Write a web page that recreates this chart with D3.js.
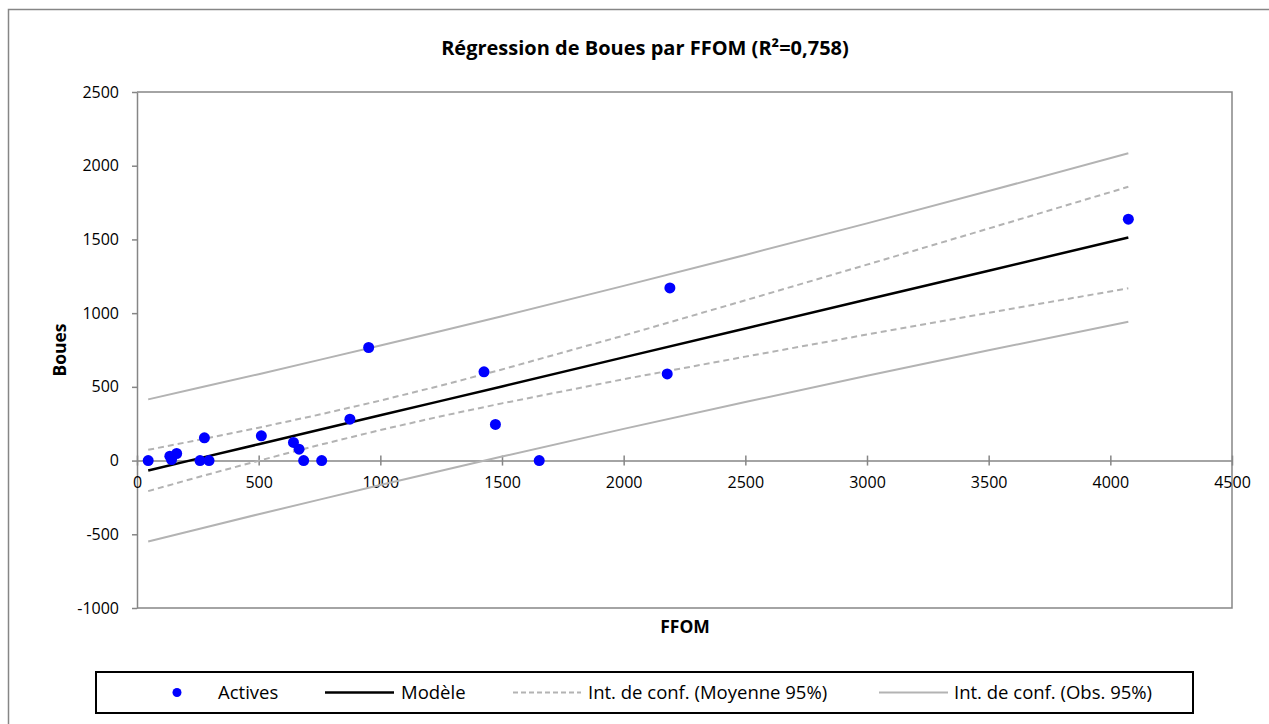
<!DOCTYPE html>
<html>
<head>
<meta charset="utf-8">
<script src="https://cdn.jsdelivr.net/npm/d3@7"></script>
<style>
  body { margin: 0; background: #fff; }
  svg { font-family: "Open Sans", "Noto Sans", sans-serif; }
  .axis text { font-size: 16px; fill: #000; }
  .axis path, .axis line { stroke: #868686; stroke-width: 1.5px; }
  .label { font-size: 17.5px; font-weight: bold; }
  .title { font-size: 20px; font-weight: bold; text-anchor: middle; }
  .legend text { font-size: 18.5px; }
</style>
</head>
<body>
<div id="chart"></div>
<script>
// observations (FFOM, Boues)
var ffom  = [46, 135, 142, 163, 277, 259, 296, 511, 643, 666, 685, 759, 875, 952, 1426, 1473, 1653, 2190, 2179, 4074];
var boues = [0, 30, 7, 48, 154, 0, 0, 168, 123, 77, 0, 0, 281, 767, 602, 245, 0, 1171, 588, 1637];

// model line and confidence bands
var bandX    = [46, 250, 500, 750, 1000, 1250, 1500, 2000, 2500, 3000, 3500, 4074];
var model    = [-67, 13, 111, 209, 307, 405, 503, 700, 896, 1092, 1288, 1513];
var meanLow  = [-207, -113, -1, 106, 207, 301, 388, 552, 705, 855, 1002, 1169];
var meanHigh = [73, 139, 223, 312, 407, 509, 618, 848, 1087, 1329, 1574, 1857];
var obsLow   = [-549, -466, -364, -265, -166, -69, 27, 215, 397, 575, 748, 942];
var obsHigh  = [415, 492, 586, 683, 780, 879, 979, 1185, 1395, 1609, 1828, 2084];

var xTicks = [0, 500, 1000, 1500, 2000, 2500, 3000, 3500, 4000, 4500];
var yTicks = [-1000, -500, 0, 500, 1000, 1500, 2000, 2500];

var width = 1269, height = 724;
var plot = {left: 137, right: 1232, top: 92, bottom: 608};
var bandColor = "#b3b3b3";

var svg = d3.select("#chart")
  .append("svg")
  .attr("width", width)
  .attr("height", height);

// outer chart border
svg.append("rect")
  .attr("x", 8.5).attr("y", 9.5)
  .attr("width", width).attr("height", height)
  .attr("fill", "none")
  .attr("stroke", "#868686")
  .attr("stroke-width", 1.5);

var x = d3.scaleLinear()
  .domain([0, 4500])
  .range([plot.left, plot.right]);

var y = d3.scaleLinear()
  .domain([-1000, 2500])
  .range([plot.bottom, plot.top]);

// plot area frame (top, right, bottom)
svg.append("path")
  .attr("d", "M" + plot.left + "," + plot.top + "H" + plot.right + "V" + plot.bottom + "H" + plot.left)
  .attr("fill", "none")
  .attr("stroke", "#868686")
  .attr("stroke-width", 1.5);

// y axis
svg.append("g")
  .attr("class", "yAxis axis")
  .attr("transform", "translate(" + plot.left + ",0)")
  .call(
    d3.axisLeft(y)
    .tickValues(yTicks)
    .tickFormat(d => d.toString())
    .tickSizeInner(5)
    .tickSizeOuter(0)
    .tickPadding(13)
  );

// x axis sits on y = 0, ticks cross it
var xAxis = svg.append("g")
  .attr("class", "xAxis axis")
  .attr("transform", "translate(0," + y(0) + ")")
  .call(
    d3.axisBottom(x)
    .tickValues(xTicks)
    .tickFormat(d => d.toString())
    .tickSizeInner(5)
    .tickSizeOuter(0)
    .tickPadding(11)
  );
xAxis.selectAll(".tick line").attr("y1", -5);

svg.selectAll(".axis").attr("font-family", null).attr("font-size", null);

// axis labels
svg.append("text")
  .attr("class", "label")
  .attr("transform", "translate(66," + ((plot.top + plot.bottom) / 2) + ") rotate(-90)")
  .style("text-anchor", "middle")
  .text("Boues");

svg.append("text")
  .attr("class", "label")
  .attr("x", 685)
  .attr("y", 633)
  .style("text-anchor", "middle")
  .text("FFOM");

// title
svg.append("text")
  .attr("class", "title")
  .attr("x", 645)
  .attr("y", 55)
  .text("Régression de Boues par FFOM (R²=0,758)");

// lines
function drawLine(values, color, w, dash) {
  var line = d3.line()
    .x((d, i) => x(bandX[i]))
    .y(d => y(d));
  svg.append("path")
    .datum(values)
    .attr("d", line)
    .attr("fill", "none")
    .attr("stroke", color)
    .attr("stroke-width", w)
    .attr("stroke-dasharray", dash);
}

drawLine(obsHigh, bandColor, 2, null);
drawLine(obsLow, bandColor, 2, null);
drawLine(meanHigh, bandColor, 2, "6,4");
drawLine(meanLow, bandColor, 2, "6,4");
drawLine(model, "#000", 2.5, null);

// points
svg.selectAll(".circle")
  .data(ffom)
  .enter()
  .append("circle")
  .attr("class", "circle")
  .attr("r", 5.5)
  .style("fill", "#0000ff")
  .attr("cx", d => x(d))
  .attr("cy", (d, i) => y(boues[i]));

// legend
var legend = svg.append("g").attr("class", "legend");
legend.append("rect")
  .attr("x", 96).attr("y", 672)
  .attr("width", 1097).attr("height", 41)
  .attr("fill", "#fff")
  .attr("stroke", "#000")
  .attr("stroke-width", 2);

var ly = 692.5;
legend.append("circle")
  .attr("cx", 177).attr("cy", ly).attr("r", 4.5)
  .style("fill", "#0000ff");
legend.append("text").attr("x", 218).attr("y", ly).attr("dy", "0.35em").text("Actives");

var legendLines = [
  {x1: 325, x2: 394, color: "#000", w: 2.5, dash: null, tx: 401, label: "Modèle"},
  {x1: 513, x2: 581, color: bandColor, w: 2, dash: "5,3", tx: 588, label: "Int. de conf. (Moyenne 95%)"},
  {x1: 879, x2: 948, color: bandColor, w: 2, dash: null, tx: 954, label: "Int. de conf. (Obs. 95%)"}
];

legendLines.forEach(function(d) {
  legend.append("line")
    .attr("x1", d.x1).attr("x2", d.x2)
    .attr("y1", ly).attr("y2", ly)
    .attr("stroke", d.color)
    .attr("stroke-width", d.w)
    .attr("stroke-dasharray", d.dash);
  legend.append("text")
    .attr("x", d.tx).attr("y", ly).attr("dy", "0.35em")
    .text(d.label);
});
</script>
</body>
</html>
